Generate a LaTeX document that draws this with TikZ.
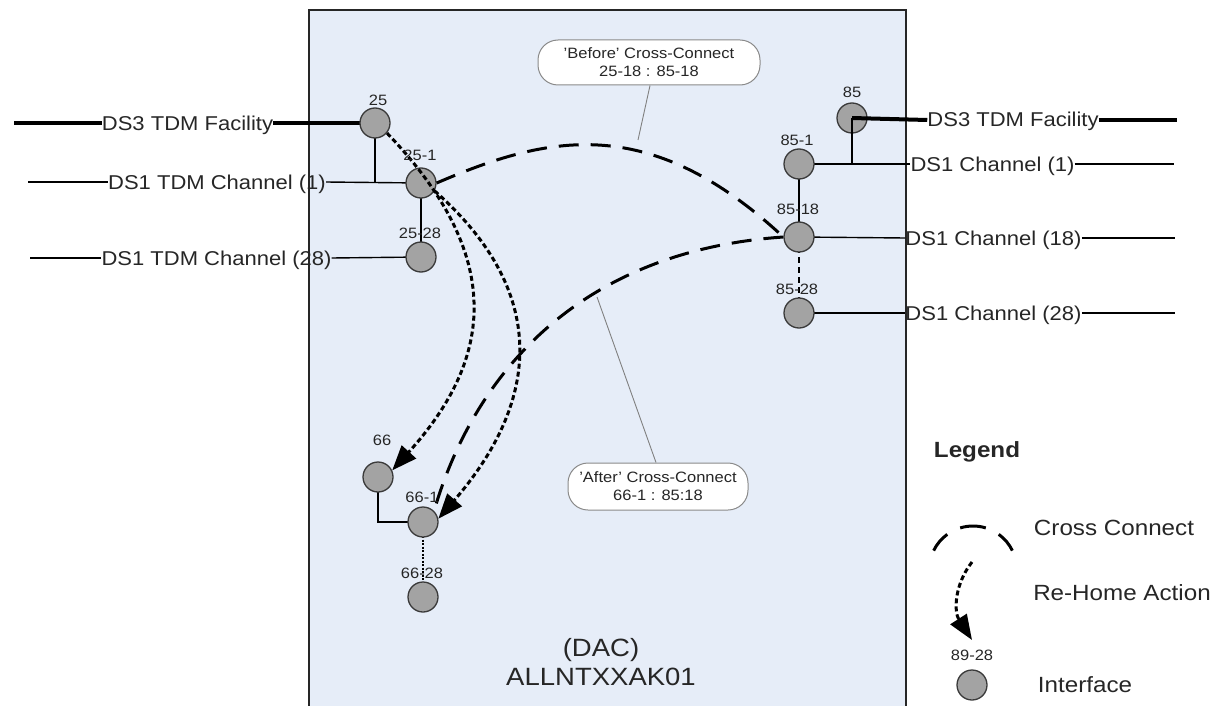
\documentclass[tikz,border=0pt]{standalone}
\usepackage{fontspec}
\setmainfont[FakeStretch=1.1]{Liberation Sans}
\usetikzlibrary{arrows.meta}
\definecolor{boxfill}{HTML}{E6EDF8}
\definecolor{circfill}{HTML}{A3A3A3}
\definecolor{circbd}{HTML}{3A3A3A}
\definecolor{txt}{HTML}{262626}
\definecolor{bubbd}{HTML}{8A8A8A}
\begin{document}
\begin{tikzpicture}[x=1pt,y=-1pt,
  iface/.style={circle,draw=circbd,fill=circfill,line width=1.3pt,minimum size=30pt,inner sep=0pt},
  num/.style={font=\fontsize{15}{17}\selectfont,text=txt,inner sep=1pt},
  chan/.style={font=\fontsize{20}{24}\selectfont,text=txt,inner sep=0pt,text height=14pt,text depth=0pt},
  legtxt/.style={font=\fontsize{22}{26}\selectfont,text=txt,inner sep=0pt},
  wire/.style={line width=1.4pt,draw=black},
  thickwire/.style={line width=4pt,draw=black},
  xconn/.style={line width=3pt,dash pattern=on 20pt off 12pt},
  rehome/.style={line width=3pt,dash pattern=on 5pt off 3pt,-{Triangle[length=25pt,width=19pt]}},
  bubble/.style={rounded corners=20pt,draw=bubbd,fill=white,line width=1pt,align=center,
    font=\fontsize{15}{18}\selectfont,text=txt,inner sep=0pt},
  callout/.style={draw=gray,line width=0.9pt}]
\useasboundingbox (0,0) rectangle (1225,706);
% device frame
\fill[boxfill] (309,10) rectangle (906,720);
\draw[line width=1.5pt,draw=black!85] (309,720) -- (309,10) -- (906,10) -- (906,720);

% left texts
\node[chan] (tL1) at (187.5,123) {DS3 TDM Facility};
\node[chan] (tL2) at (217,182) {DS1 TDM Channel (1)};
\node[chan] (tL3) at (216.5,258) {DS1 TDM Channel (28)};
\coordinate (eL1) at (14,123);
\coordinate (eL2) at (28,182);
\coordinate (eL3) at (30,258);
% right texts
\node[chan] (tR1) at (1013,120) {DS3 TDM Facility};
\node[chan] (tR2) at (992.5,164) {DS1 Channel (1)};
\node[chan] (tR3) at (993.5,238) {DS1 Channel (18)};
\node[chan] (tR4) at (993.5,313) {DS1 Channel (28)};
\coordinate (eR1) at (1177,120);
\coordinate (eR2) at (1174,164);
\coordinate (eR3) at (1175,238);
\coordinate (eR4) at (1175,313);

% interface positions
\coordinate (p25) at (375,123);
\coordinate (p251) at (421,183);
\coordinate (p2528) at (421,257);
\coordinate (p66) at (378,477);
\coordinate (p661) at (423,522);
\coordinate (p6628) at (423,597);
\coordinate (p85) at (852,118);
\coordinate (p851) at (799,164);
\coordinate (p8518) at (799,237);
\coordinate (p8528) at (799,313);

% left wires
\draw[thickwire] (eL1) -- (tL1.west);
\draw[thickwire] (tL1.east) -- (p25);
\draw[wire] (eL2) -- (tL2.west);
\draw[wire] (tL2.east) -- (p251);
\draw[wire] (eL3) -- (tL3.west);
\draw[wire] (tL3.east) -- (p2528);
\draw[wire] (p25) -- (p25 |- p251);
\draw[wire] (p251) -- (p2528);
% 66 wires
\draw[wire] (p66) -- (p66 |- p661) -- (p661);
\draw[line width=1.2pt,dash pattern=on 2pt off 1.5pt] (p661) -- (p6628);
% right wires
\draw[wire] (p851) -- (tR2.west);
\draw[wire] (tR2.east) -- (eR2);
\draw[wire] (p8518) -- (tR3.west);
\draw[wire] (tR3.east) -- (eR3);
\draw[wire] (p8528) -- (tR4.west);
\draw[wire] (tR4.east) -- (eR4);
\draw[thickwire] (tR1.east) -- (eR1);
\draw[wire] (p851) -- (p8518);
\draw[wire,dash pattern=on 6pt off 4pt] (p8518) -- (p8528);

% interfaces
\node[iface] (n25) at (p25) {};
\node[iface] (n251) at (p251) {};
\node[iface] (n2528) at (p2528) {};
\node[iface] (n66) at (p66) {};
\node[iface] (n661) at (p661) {};
\node[iface] (n6628) at (p6628) {};
\node[iface] (n85) at (p85) {};
\node[iface] (n851) at (p851) {};
\node[iface] (n8518) at (p8518) {};
\node[iface] (n8528) at (p8528) {};

% 85 facility lines over the circle
\coordinate (j85) at (852,164);
\draw[thickwire] (n85.center) -- (tR1.west);
\draw[wire] (n85.center) -- (j85);

% callout lines
\coordinate (cb) at (638,140);
\coordinate (ca) at (597,297);

% cross connects
\draw[xconn] (n251.east) .. controls (546,136) and (648,111) .. (n8518.west);
\draw[xconn] (n8518.west) .. controls (579,251) and (474,374) .. (n661.45);
% re-home actions
\draw[rehome] (n25.-40) .. controls (505,256) and (494,358) .. (n66.25);
\draw[rehome] (n251.-30) .. controls (555,297) and (535,407) .. (n661.12);

% interface labels
\node[num] (l25) at (378,100) {25};
\node[num] (l251) at (420,155) {25-1};
\node[num] (l2528) at (420,233) {25-28};
\node[num] (l66) at (382,440) {66};
\node[num] (l661) at (422,497) {66-1};
\node[num] (l6628) at (422,573) {66-28};
\node[num] (l85) at (852,92) {85};
\node[num] (l851) at (797,140) {85-1};
\node[num] (l8518) at (798,209) {85-18};
\node[num] (l8528) at (797,289) {85-28};

% bubbles
\node[bubble,minimum width=222pt,minimum height=45pt] (bb) at (649,62.5)
  {'Before' Cross-Connect\\25-18 : 85-18};
\node[bubble,minimum width=180pt,minimum height=47pt] (ba) at (658,486.5)
  {'After' Cross-Connect\\66-1 : 85:18};
\draw[callout] (bb.south) ++(1,0) coordinate (bbs) -- (cb);
\draw[callout] (ba.north) ++(-2,0) coordinate (bas) -- (ca);

% device name
\node[font=\fontsize{25}{29}\selectfont,text=txt,align=center] (dev) at (601,662) {(DAC)\\ALLNTXXAK01};

% legend
\node[font=\bfseries\fontsize{22}{26}\selectfont,text=txt,inner sep=0pt] (lgT) at (977,452) {Legend};
\coordinate (lcc) at (973,569.8);
\draw[line width=3pt]
  ([shift={(206:43.8)}]lcc) arc[start angle=206,end angle=234,radius=43.8]
  ([shift={(253:43.8)}]lcc) arc[start angle=253,end angle=287,radius=43.8]
  ([shift={(306:43.8)}]lcc) arc[start angle=306,end angle=334,radius=43.8];
\node[legtxt] (lgC) at (1114,528) {Cross Connect};
\coordinate (lr1) at (972,562);
\coordinate (lr2) at (972,640);
\draw[rehome] (lr1) .. controls (954,585) and (954,612) .. (lr2);
\node[legtxt] (lgR) at (1122,593) {Re-Home Action};
\node[num] (lgN) at (972,655) {89-28};
\node[iface] (lgI) at (972,685) {};
\node[legtxt] (lgIt) at (1085,685) {Interface};
\end{tikzpicture}
\end{document}
